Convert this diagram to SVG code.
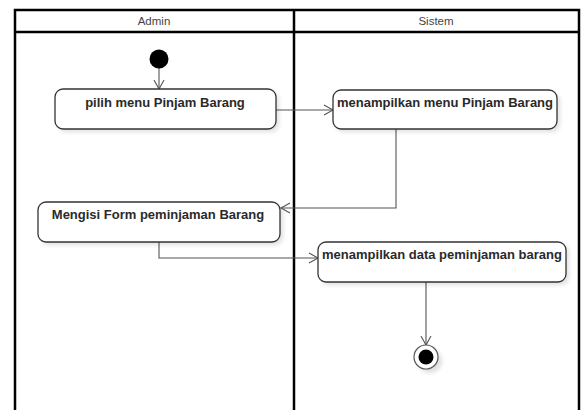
<svg xmlns="http://www.w3.org/2000/svg" width="582" height="410" viewBox="0 0 582 410">
<style>
.lane{fill:none;stroke:#000;stroke-width:2.5}
.hdr{font-family:"Liberation Sans",Arial,sans-serif;font-size:11.5px;fill:#444;text-anchor:middle}
.act{fill:#fff;stroke:#333;stroke-width:1.3}
.sh{fill:#000;opacity:0.12;filter:url(#blur)}
.lbl{font-family:"Liberation Sans",Arial,sans-serif;font-size:13px;font-weight:bold;fill:#2a2a2a;text-anchor:middle}
.con{fill:none;stroke:#555;stroke-width:1.1}
</style>
<defs>
<filter id="blur" x="-20%" y="-20%" width="140%" height="140%"><feGaussianBlur stdDeviation="2"/></filter>
<marker id="arr" markerWidth="12" markerHeight="12" refX="10" refY="6" orient="auto" markerUnits="userSpaceOnUse">
<path d="M1,1 L10,6 L1,11" fill="none" stroke="#555" stroke-width="1.1"/>
</marker>
</defs>
<rect width="582" height="410" fill="#fff"/>
<g id="lanes">
<rect x="15" y="10" width="564" height="404" class="lane"/>
<line x1="15" y1="32" x2="579" y2="32" class="lane"/>
<line x1="294" y1="10" x2="294" y2="414" class="lane" stroke-width="3"/>
<text x="154" y="25" class="hdr">Admin</text>
<text x="436" y="25" class="hdr">Sistem</text>
</g>
<g id="connectors">
<path d="M159,68 V89" class="con" marker-end="url(#arr)"/>
<path d="M276,110 H333" class="con" marker-end="url(#arr)"/>
<path d="M396,129 V208 H281" class="con" marker-end="url(#arr)"/>
<path d="M159,242 V258 H318" class="con" marker-end="url(#arr)"/>
<path d="M426,282 V345" class="con" marker-end="url(#arr)"/>
</g>
<g id="start">
<circle cx="159" cy="59" r="9.5" fill="#000"/>
</g>
<g id="a1">
<rect x="58" y="92" width="221" height="40" rx="8" class="sh"/>
<rect x="55" y="89" width="221" height="40" rx="8" class="act"/>
<text x="165" y="107" class="lbl">pilih menu Pinjam Barang</text>
</g>
<g id="a2">
<rect x="336" y="93" width="224" height="39" rx="8" class="sh"/>
<rect x="333" y="90" width="224" height="39" rx="8" class="act"/>
<text x="445" y="107" class="lbl">menampilkan menu Pinjam Barang</text>
</g>
<g id="a3">
<rect x="41" y="205" width="242" height="40" rx="8" class="sh"/>
<rect x="38" y="202" width="242" height="40" rx="8" class="act"/>
<text x="158" y="219" class="lbl">Mengisi Form peminjaman Barang</text>
</g>
<g id="a4">
<rect x="321" y="245" width="248" height="40" rx="8" class="sh"/>
<rect x="318" y="242" width="248" height="40" rx="8" class="act"/>
<text x="442" y="259" class="lbl">menampilkan data peminjaman barang</text>
</g>
<g id="end">
<circle cx="430" cy="361" r="12" class="sh"/>
<circle cx="426" cy="357" r="12" fill="#fff" stroke="#555" stroke-width="1.2"/>
<circle cx="426" cy="357" r="7.5" fill="#000"/>
</g>
</svg>
